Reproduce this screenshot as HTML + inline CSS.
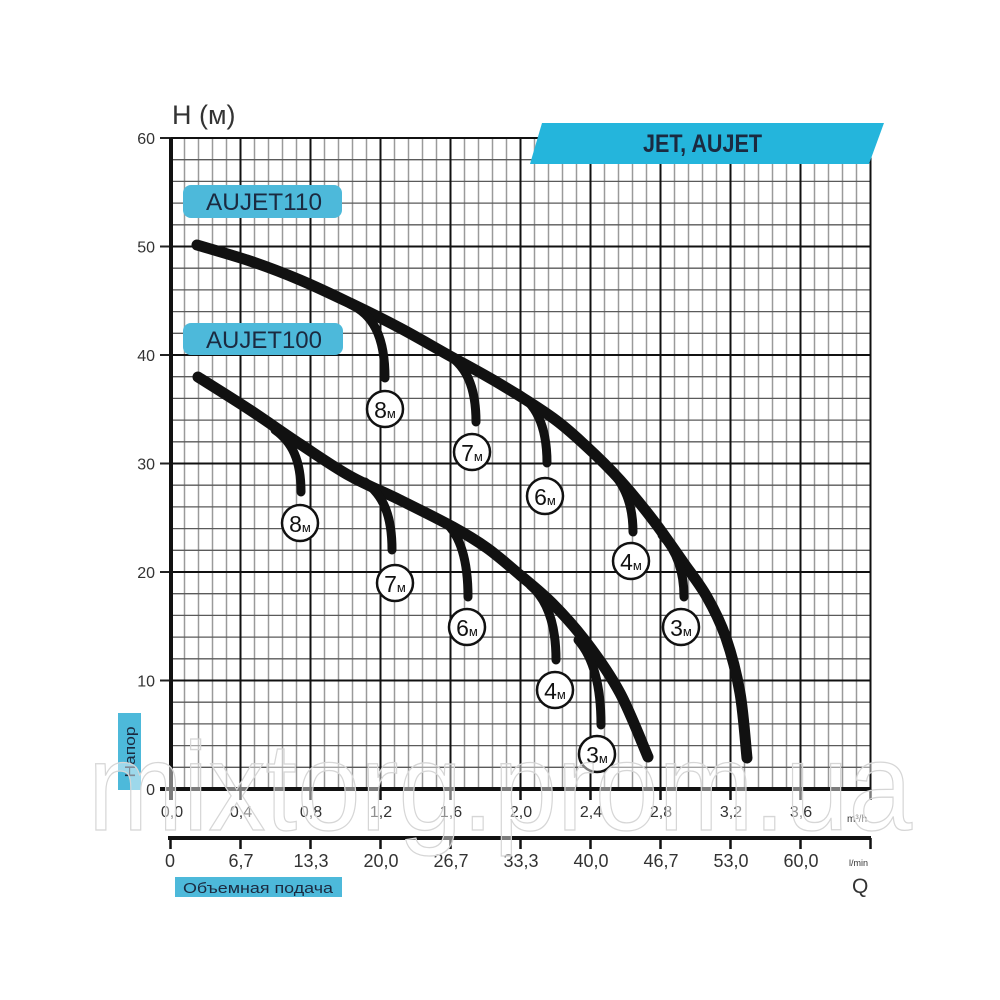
<!DOCTYPE html>
<html><head><meta charset="utf-8"><style>
html,body{margin:0;padding:0;background:#fff;}
svg{display:block;}
text{font-family:"Liberation Sans","DejaVu Sans",sans-serif;}
</style></head><body>
<svg width="1000" height="1000" viewBox="0 0 1000 1000" xmlns="http://www.w3.org/2000/svg">
<rect width="1000" height="1000" fill="#fff"/>
<!-- minor vertical -->
<path stroke="#9a9a9a" stroke-width="1.5" fill="none" d="
M184.5 138V789M198.5 138V789M212.5 138V789M226.5 138V789
M254.5 138V789M268.5 138V789M282.5 138V789M296.5 138V789
M324.5 138V789M338.5 138V789M352.5 138V789M366.5 138V789
M394.5 138V789M408.5 138V789M422.5 138V789M436.5 138V789
M464.5 138V789M478.5 138V789M492.5 138V789M506.5 138V789
M534.5 138V789M548.5 138V789M562.5 138V789M576.5 138V789
M604.5 138V789M618.5 138V789M632.5 138V789M646.5 138V789
M674.5 138V789M688.5 138V789M702.5 138V789M716.5 138V789
M744.5 138V789M758.5 138V789M772.5 138V789M786.5 138V789
M814.5 138V789M828.5 138V789M842.5 138V789M856.5 138V789"/>
<!-- minor horizontal -->
<path stroke="#5a5a5a" stroke-width="1.3" fill="none" d="
M170 767.3H870M170 745.6H870M170 723.9H870M170 702.2H870
M170 658.8H870M170 637.1H870M170 615.4H870M170 593.7H870
M170 550.3H870M170 528.6H870M170 506.9H870M170 485.2H870
M170 441.8H870M170 420.1H870M170 398.4H870M170 376.7H870
M170 333.3H870M170 311.6H870M170 289.9H870M170 268.2H870
M170 224.8H870M170 203.1H870M170 181.4H870M170 159.7H870"/>
<!-- major lines -->
<path stroke="#111" stroke-width="2" fill="none" d="
M240.5 138V789M310.5 138V789M380.5 138V789M450.5 138V789M520.5 138V789
M590.5 138V789M660.5 138V789M730.5 138V789M800.5 138V789M870.5 138V789
M170 680.5H871M170 572H871M170 463.5H871M170 355H871M170 246.5H871M170 138H871"/>
<!-- y ticks -->
<path stroke="#222" stroke-width="2" fill="none" d="M160 138H171M160 246.5H171M160 355H171M160 463.5H171M160 572H171M160 680.5H171"/>
<!-- axes -->
<path stroke="#111" stroke-width="4" fill="none" d="M171 138V800M160 789H871"/>
<path stroke="#111" stroke-width="2.5" fill="none" d="M240.5 789V800M310.5 789V800M380.5 789V800M450.5 789V800M520.5 789V800M590.5 789V800M660.5 789V800M730.5 789V800M800.5 789V800M870.5 789V800"/>
<!-- second axis -->
<path stroke="#111" stroke-width="4" fill="none" d="M168 838H871"/>
<path stroke="#111" stroke-width="2.5" fill="none" d="M170.5 838V849M240.5 838V849M310.5 838V849M380.5 838V849M450.5 838V849M520.5 838V849M590.5 838V849M660.5 838V849M730.5 838V849M800.5 838V849M870.5 838V849"/>

<!-- y labels -->
<g fill="#333" font-size="16" text-anchor="end">
<text x="155" y="144">60</text>
<text x="155" y="252.5">50</text>
<text x="155" y="361">40</text>
<text x="155" y="469.5">30</text>
<text x="155" y="578">20</text>
<text x="155" y="686.5">10</text>
<text x="155" y="795">0</text>
</g>
<text x="172" y="124" font-size="27" fill="#333">H (м)</text>

<!-- x labels 1 -->
<g fill="#333" font-size="16" text-anchor="middle">
<text x="172" y="817">0,0</text>
<text x="241" y="817">0,4</text>
<text x="311" y="817">0,8</text>
<text x="381" y="817">1,2</text>
<text x="451" y="817">1,6</text>
<text x="521" y="817">2,0</text>
<text x="591" y="817">2,4</text>
<text x="661" y="817">2,8</text>
<text x="731" y="817">3,2</text>
<text x="801" y="817">3,6</text>
</g>
<text x="847" y="822" font-size="10" fill="#333">m³/h</text>
<!-- x labels 2 -->
<g fill="#333" font-size="18" text-anchor="middle">
<text x="170" y="867">0</text>
<text x="241" y="867">6,7</text>
<text x="311" y="867">13,3</text>
<text x="381" y="867">20,0</text>
<text x="451" y="867">26,7</text>
<text x="521" y="867">33,3</text>
<text x="591" y="867">40,0</text>
<text x="661" y="867">46,7</text>
<text x="731" y="867">53,0</text>
<text x="801" y="867">60,0</text>
</g>
<text x="849" y="866" font-size="9" fill="#333">l/min</text>
<text x="852" y="893" font-size="21" fill="#333">Q</text>

<!-- banner -->
<polygon points="542,123 884,123 869,164 530,164" fill="#24B5DC"/>
<text x="643" y="152" font-size="25" font-weight="bold" fill="#1B2A40" textLength="119" lengthAdjust="spacingAndGlyphs">JET, AUJET</text>

<!-- model labels -->
<rect x="183" y="185" width="159" height="33" rx="8" fill="#4DB9DA"/>
<text x="206" y="210" font-size="24" fill="#1B2A40" textLength="116" lengthAdjust="spacingAndGlyphs">AUJET110</text>
<rect x="183" y="323" width="160" height="32" rx="8" fill="#4DB9DA"/>
<text x="206" y="348" font-size="24" fill="#1B2A40" textLength="116" lengthAdjust="spacingAndGlyphs">AUJET100</text>

<!-- side / bottom labels -->
<rect x="118" y="713" width="23" height="77" fill="#4DB9DA"/>
<text transform="translate(135,752) rotate(-90)" x="0" y="0" font-size="15" fill="#1B2A40" text-anchor="middle" textLength="51" lengthAdjust="spacingAndGlyphs">Напор</text>
<rect x="175" y="877" width="167" height="20" fill="#4DB9DA"/>
<text x="183" y="893" font-size="15" fill="#1B2A40" textLength="150" lengthAdjust="spacingAndGlyphs">Объемная подача</text>

<!-- curves -->
<g fill="none" stroke="#111" stroke-linecap="round" stroke-linejoin="round">
<path stroke-width="11" d="M197,245 C205.8,247.7 232.8,255.2 250,261 C267.2,266.8 283.3,273 300,280 C316.7,287 333.3,295 350,303 C366.7,311 383.3,319.2 400,328 C416.7,336.8 433.3,346.7 450,356 C466.7,365.3 482.8,373.7 500,384 C517.2,394.3 538.5,407.5 553,418 C567.5,428.5 575.8,436.7 587,447 C598.2,457.3 609,467.8 620,480 C631,492.2 642.5,506.3 653,520 C663.5,533.7 674,549.2 683,562 C692,574.8 699.8,584.3 707,597 C714.2,609.7 720.5,622 726,638 C731.5,654 736.5,673 740,693 C743.5,713 745.8,747.2 747,758"/>
<path stroke-width="11" d="M198,377 C206.7,382.5 233,398.8 250,410 C267,421.2 283.3,433 300,444 C316.7,455 333.3,466.7 350,476 C366.7,485.3 382.8,491.5 400,500 C417.2,508.5 438.5,519 453,527 C467.5,535 475.8,540 487,548 C498.2,556 509,565.7 520,575 C531,584.3 541.8,592.7 553,604 C564.2,615.3 575.8,628.2 587,643 C598.2,657.8 609.8,674 620,693 C630.2,712 643.3,746.3 648,757"/>
<g stroke-width="9">
<path d="M350,304 C372,314 385,335 385,378"/>
<path d="M443,352 C465,363 476,385 476,422"/>
<path d="M515,392 C535,402 547,425 547,463"/>
<path d="M605,465 C622,480 633,500 633,532"/>
<path d="M662,535 C676,550 684,570 684,597"/>
<path d="M275,430 C292,442 301,460 301,492"/>
<path d="M365,482 C383,495 392,515 392,550"/>
<path d="M445,522 C460,535 468,560 468,597"/>
<path d="M530,585 C548,600 556,625 556,660"/>
<path d="M578,640 C593,657 601,685 601,725"/>
</g>
</g>

<!-- circles -->
<g fill="#fff" stroke="#111" stroke-width="2.5">
<circle cx="385" cy="409" r="18"/>
<circle cx="472" cy="452" r="18"/>
<circle cx="545" cy="496" r="18"/>
<circle cx="631" cy="561" r="18"/>
<circle cx="681" cy="627" r="18"/>
<circle cx="300" cy="523" r="18"/>
<circle cx="395" cy="583" r="18"/>
<circle cx="467" cy="627" r="18"/>
<circle cx="555" cy="690" r="18"/>
<circle cx="597" cy="754" r="18"/>
</g>
<g fill="#111" text-anchor="middle">
<text x="385" y="418"><tspan font-size="23">8</tspan><tspan font-size="13">м</tspan></text>
<text x="472" y="461"><tspan font-size="23">7</tspan><tspan font-size="13">м</tspan></text>
<text x="545" y="505"><tspan font-size="23">6</tspan><tspan font-size="13">м</tspan></text>
<text x="631" y="570"><tspan font-size="23">4</tspan><tspan font-size="13">м</tspan></text>
<text x="681" y="636"><tspan font-size="23">3</tspan><tspan font-size="13">м</tspan></text>
<text x="300" y="532"><tspan font-size="23">8</tspan><tspan font-size="13">м</tspan></text>
<text x="395" y="592"><tspan font-size="23">7</tspan><tspan font-size="13">м</tspan></text>
<text x="467" y="636"><tspan font-size="23">6</tspan><tspan font-size="13">м</tspan></text>
<text x="555" y="699"><tspan font-size="23">4</tspan><tspan font-size="13">м</tspan></text>
<text x="597" y="763"><tspan font-size="23">3</tspan><tspan font-size="13">м</tspan></text>
</g>

<!-- watermark -->
<text x="88" y="830" font-size="125" fill="#fff" fill-opacity="0.45" stroke="#d6d6d6" stroke-width="1.3" textLength="824" lengthAdjust="spacingAndGlyphs">mixtorg.prom.ua</text>
</svg>
</body></html>
